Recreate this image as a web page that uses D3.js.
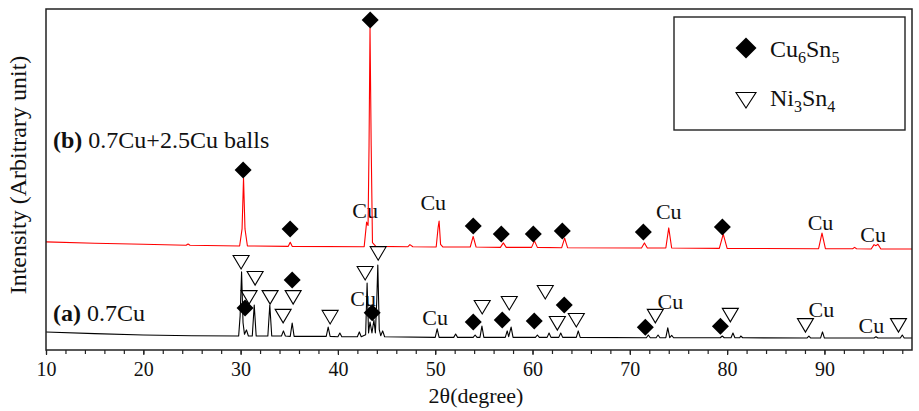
<!DOCTYPE html>
<html>
<head>
<meta charset="utf-8">
<title>XRD patterns</title>
<style>
    body { margin: 0; padding: 0; background: white; }
    text { font-family: "Liberation Serif", "Times New Roman", serif; fill: #111; }
    .tick text { font-size: 20px; }
</style>
</head>
<body>
<div id="chart"></div>
<script src="https://cdn.jsdelivr.net/npm/d3@7/dist/d3.min.js"></script>
<script>
    // 2theta (deg) vs intensity (arbitrary units)
    let xTicks = [10, 20, 30, 40, 50, 60, 70, 80, 90]

    // (b) 0.7Cu+2.5Cu balls  - red trace
    let patternB = [
        [10, 31.7], [15, 31.3], [20, 31.0], [24.4, 30.7], [24.6, 31.1], [24.8, 30.7],
        [29.9, 30.5], [30.15, 35.5], [30.3, 50.4], [30.45, 35.5], [30.7, 30.5],
        [34.9, 30.4], [35.1, 31.6], [35.3, 30.4],
        [42.7, 30.3], [42.95, 37.5], [43.1, 36.5], [43.2, 60], [43.3, 94.4], [43.42, 60], [43.55, 31.5], [43.9, 30.4],
        [47.2, 30.3], [47.4, 30.9], [47.7, 30.3],
        [50.1, 30.2], [50.3, 36], [50.4, 37.8], [50.55, 31], [50.8, 30.2],
        [53.6, 30.2], [53.9, 33.3], [54.2, 30.2],
        [56.7, 30.1], [57.0, 31.4], [57.3, 30.1],
        [59.9, 30.1], [60.2, 32.0], [60.5, 30.1],
        [63.0, 30.0], [63.3, 32.8], [63.6, 30.0],
        [71.2, 29.9], [71.5, 31.4], [71.8, 29.9],
        [73.7, 29.9], [74.0, 35.8], [74.3, 29.9],
        [79.2, 29.8], [79.6, 34.0], [80.0, 29.8],
        [89.4, 29.7], [89.75, 34.3], [90.1, 29.7],
        [92.9, 29.7], [93.1, 30.1], [93.3, 29.7],
        [94.8, 29.6], [95.1, 30.9], [95.3, 30.6], [95.5, 31.0], [95.8, 29.6], [99, 29.6]
    ]

    // (a) 0.7Cu - black trace
    let patternA = [
        [10, 5.3], [15, 4.8], [20, 4.4], [25, 4.2],
        [29.8, 4.1], [29.95, 10], [30.1, 22.9], [30.25, 8], [30.4, 4.6], [30.6, 5.9], [30.8, 4.1],
        [31.2, 4.1], [31.4, 13.2], [31.6, 4.1],
        [32.8, 4.1], [33.0, 13.2], [33.2, 4.1],
        [34.2, 4.1], [34.4, 5.6], [34.6, 4.1],
        [35.1, 4.0], [35.3, 7.9], [35.5, 4.0],
        [38.8, 4.0], [39.0, 6.7], [39.2, 4.0],
        [40.0, 3.9], [40.2, 5.0], [40.4, 3.9],
        [42.0, 3.9], [42.2, 5.3], [42.4, 3.9],
        [42.85, 4.5], [43.0, 19.6], [43.15, 5], [43.3, 8.2], [43.5, 5], [43.7, 8.8], [43.85, 5],
        [44.0, 15], [44.1, 24.9], [44.25, 6], [44.4, 4.2], [44.6, 5.6], [44.8, 3.9],
        [50.0, 3.7], [50.2, 6.2], [50.4, 3.7],
        [51.9, 3.7], [52.1, 4.7], [52.3, 3.7],
        [53.9, 3.7], [54.1, 4.4], [54.3, 3.7], [54.6, 3.7], [54.8, 7.0], [55.0, 3.7],
        [57.2, 3.7], [57.4, 5.6], [57.55, 3.9], [57.8, 6.7], [58.0, 3.7],
        [60.3, 3.7], [60.5, 4.4], [60.7, 3.7],
        [61.5, 3.7], [61.7, 5.0], [61.9, 3.7],
        [62.7, 3.7], [62.9, 5.0], [63.1, 3.7],
        [64.5, 3.7], [64.7, 5.6], [64.9, 3.7],
        [71.7, 3.6], [71.9, 4.4], [72.1, 3.6],
        [72.7, 3.6], [72.9, 4.4], [73.1, 3.6],
        [73.7, 3.6], [73.9, 6.5], [74.1, 3.6], [74.3, 4.3], [74.5, 3.6],
        [79.3, 3.6], [79.5, 4.1], [79.7, 3.6],
        [80.4, 3.6], [80.6, 5.0], [80.8, 3.6], [81.3, 3.6], [81.4, 4.1], [81.6, 3.6],
        [88.2, 3.5], [88.4, 4.1], [88.6, 3.5],
        [89.6, 3.5], [89.8, 5.3], [90.0, 3.5],
        [95.1, 3.5], [95.3, 3.9], [95.5, 3.5],
        [97.8, 3.5], [98.0, 4.4], [98.2, 3.5], [99, 3.5]
    ]

    // phase markers [2theta, intensity]
    let cu6sn5B = [[30.26, 52.8], [35.09, 35.5], [43.32, 96.8], [53.91, 36.4], [56.79, 34.0],
                   [60.08, 34.0], [63.06, 34.9], [71.39, 34.6], [79.51, 36.1]]
    let cuB = [[42.8, 38.7], [49.8, 41.1], [74.0, 38.4], [89.6, 35.2], [95.0, 31.7]]

    let cu6sn5A = [[30.46, 12.3], [35.30, 20.5], [43.52, 10.9], [53.91, 8.2], [56.89, 8.8],
                   [60.18, 8.5], [63.26, 13.2], [71.59, 6.7], [79.31, 7.0]]
    let ni3sn4A = [[30.05, 25.8], [31.49, 21.1], [30.87, 15.5], [33.03, 15.5], [35.40, 15.5],
                   [34.37, 10.0], [39.20, 9.7], [42.80, 22.6], [44.14, 28.4], [54.83, 12.6],
                   [57.61, 13.8], [61.31, 17.0], [62.55, 7.9], [64.50, 8.8], [72.62, 10.0],
                   [80.33, 10.3], [88.05, 7.3], [97.61, 7.3]]
    let cuA = [[42.6, 12.9], [50.0, 7.3], [74.16, 12.0], [89.69, 9.7], [94.83, 5.0]]

    let width = 919, height = 411
    let plotLeft = 46, plotRight = 912, plotTop = 9, plotBottom = 350

    let svg = d3.select("#chart")
        .append("svg")
        .attr("width", width)
        .attr("height", height)

    let x = d3.scaleLinear().domain([10, 99]).range([plotLeft, plotRight])
    let y = d3.scaleLinear().domain([0, 100]).range([plotBottom, plotTop])

    // minor ticks every 2 degrees
    let minor = d3.range(10, 99, 2)
    svg.append("g")
        .attr("transform", "translate(0," + plotBottom + ")")
        .call(d3.axisBottom(x).tickValues(minor).tickSize(4).tickFormat(""))
        .call(g => g.select(".domain").remove())
        .selectAll("line").attr("stroke", "#222").attr("stroke-width", 1.2)

    svg.append("g")
        .attr("transform", "translate(0," + plotBottom + ")")
        .call(d3.axisBottom(x).tickValues(xTicks).tickSize(5).tickPadding(7).tickFormat(d3.format("d")))
        .call(g => g.select(".domain").remove())
        .call(g => g.selectAll("line").attr("stroke", "#222").attr("stroke-width", 1.2))
        .call(g => g.selectAll("text").attr("fill", "#111").style("font-family", "Liberation Serif"))

    svg.append("text")
        .attr("x", (plotLeft + plotRight) / 2 - 3)
        .attr("y", 403)
        .attr("text-anchor", "middle")
        .attr("font-size", 22)
        .text("2θ(degree)")

    svg.append("text")
        .attr("transform", "translate(26," + 175 + ") rotate(-90)")
        .attr("text-anchor", "middle")
        .attr("font-size", 24)
        .text("Intensity (Arbitrary unit)")

    // Cu labels (drawn under the traces)
    let cuLabels = cuB.concat(cuA)
    svg.selectAll(".cu")
        .data(cuLabels)
        .enter()
        .append("text")
        .attr("class", "cu")
        .attr("x", d => x(d[0]))
        .attr("y", d => y(d[1]))
        .attr("text-anchor", "middle")
        .attr("font-size", 22)
        .text("Cu")

    let line = d3.line().x(d => x(d[0])).y(d => y(d[1]))

    svg.append("path")
        .datum(patternB)
        .attr("d", line)
        .attr("fill", "none")
        .attr("stroke", "#ff0000")
        .attr("stroke-width", 1.1)
        .attr("stroke-linejoin", "round")

    svg.append("path")
        .datum(patternA)
        .attr("d", line)
        .attr("fill", "none")
        .attr("stroke", "#000")
        .attr("stroke-width", 1.1)
        .attr("stroke-linejoin", "round")

    let diamond = "M0,-8.5L8.5,0L0,8.5L-8.5,0Z"
    let triangle = "M-8,-6.5L8,-6.5L0,7Z"

    svg.selectAll(".dia")
        .data(cu6sn5B.concat(cu6sn5A))
        .enter()
        .append("path")
        .attr("class", "dia")
        .attr("d", diamond)
        .attr("transform", d => "translate(" + x(d[0]) + "," + y(d[1]) + ")")
        .attr("fill", "#000")

    svg.selectAll(".tri")
        .data(ni3sn4A)
        .enter()
        .append("path")
        .attr("class", "tri")
        .attr("d", triangle)
        .attr("transform", d => "translate(" + x(d[0]) + "," + y(d[1]) + ")")
        .attr("fill", "none")
        .attr("stroke", "#000")
        .attr("stroke-width", 1.1)

    // sample labels
    let lb = svg.append("text").attr("x", 53).attr("y", 148).attr("font-size", 24)
    lb.append("tspan").attr("font-weight", "bold").text("(b)")
    lb.append("tspan").text(" 0.7Cu+2.5Cu balls")

    let la = svg.append("text").attr("x", 53).attr("y", 321).attr("font-size", 24)
    la.append("tspan").attr("font-weight", "bold").text("(a)")
    la.append("tspan").text(" 0.7Cu")

    // legend
    let legend = svg.append("g")
    legend.append("rect")
        .attr("x", 674).attr("y", 17)
        .attr("width", 231).attr("height", 113)
        .attr("fill", "white")
        .attr("stroke", "#222")
        .attr("stroke-width", 1.4)

    legend.append("path")
        .attr("d", "M0,-10.5L10.5,0L0,10.5L-10.5,0Z")
        .attr("transform", "translate(746,48)")
        .attr("fill", "#000")
    legend.append("path")
        .attr("d", "M-10,-7.5L10,-7.5L0,8Z")
        .attr("transform", "translate(746,100)")
        .attr("fill", "none")
        .attr("stroke", "#000")
        .attr("stroke-width", 1.1)

    let t1 = legend.append("text").attr("x", 770).attr("y", 57).attr("font-size", 24)
    t1.append("tspan").text("Cu")
    t1.append("tspan").attr("font-size", 16).attr("dy", 6).text("6")
    t1.append("tspan").attr("dy", -6).text("Sn")
    t1.append("tspan").attr("font-size", 16).attr("dy", 6).text("5")

    let t2 = legend.append("text").attr("x", 770).attr("y", 106).attr("font-size", 24)
    t2.append("tspan").text("Ni")
    t2.append("tspan").attr("font-size", 16).attr("dy", 6).text("3")
    t2.append("tspan").attr("dy", -6).text("Sn")
    t2.append("tspan").attr("font-size", 16).attr("dy", 6).text("4")

    // frame
    svg.append("rect")
        .attr("x", plotLeft).attr("y", plotTop)
        .attr("width", plotRight - plotLeft).attr("height", plotBottom - plotTop)
        .attr("fill", "none")
        .attr("stroke", "#222")
        .attr("stroke-width", 1.5)
</script>
</body>
</html>
